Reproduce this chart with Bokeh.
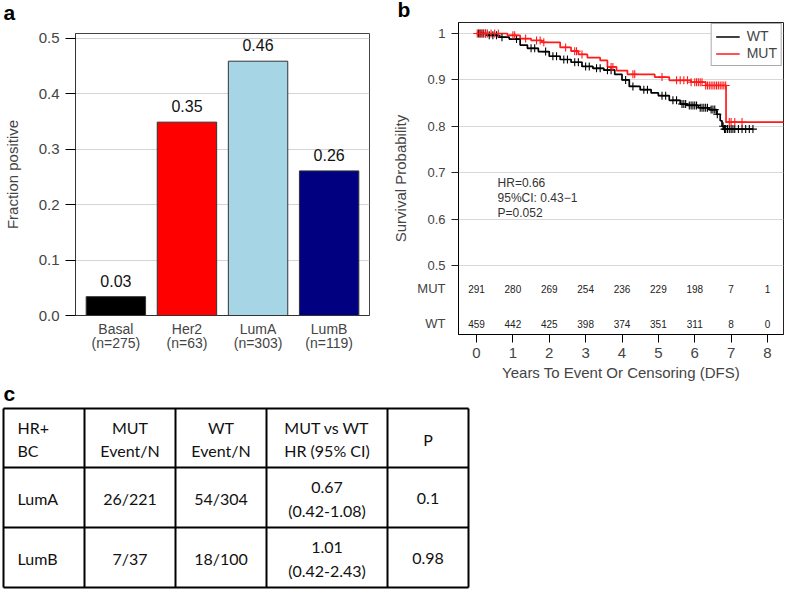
import numpy as np
from bokeh.plotting import figure
from bokeh.models import Range1d, FixedTicker, Legend, LegendItem
from bokeh.layouts import column, row
from bokeh.embed import file_html
from bokeh.resources import INLINE
from bokeh.core.properties import value

# ---------------- panel a data ----------------
subtypes = ["Basal", "Her2", "LumA", "LumB"]
subtype_n = [275, 63, 303, 119]
fraction_positive = [0.034, 0.349, 0.459, 0.261]
bar_colors = ["#000000", "#ff0000", "#a6d5e6", "#000080"]
a_yticks = [0.0, 0.1, 0.2, 0.3, 0.4, 0.5]

# ---------------- panel b data ----------------
wt_time = [0, 0.3, 0.6, 0.9, 1.2, 1.4, 1.7, 2.0, 2.3, 2.6, 2.9, 3.2, 3.5, 3.8, 4.0, 4.2,
           4.5, 4.8, 5.0, 5.3, 5.6, 5.8, 6.1, 6.4, 6.6, 6.7, 6.75, 6.8]
wt_surv = [1.0, 0.996, 0.992, 0.988, 0.975, 0.968, 0.961, 0.951, 0.944, 0.938, 0.929, 0.925,
           0.921, 0.912, 0.900, 0.886, 0.879, 0.872, 0.866, 0.856, 0.848, 0.845, 0.840, 0.836,
           0.826, 0.812, 0.800, 0.794]
wt_end = 7.6
mut_time = [0, 0.85, 1.2, 1.5, 1.8, 2.3, 2.6, 2.8, 3.05, 3.4, 3.6, 3.85, 4.15, 4.9, 5.3,
            5.9, 6.3, 6.86]
mut_surv = [1.0, 0.996, 0.989, 0.985, 0.981, 0.970, 0.962, 0.955, 0.948, 0.942, 0.928, 0.920,
            0.912, 0.906, 0.899, 0.895, 0.888, 0.809]
mut_end = 8.6
wt_censor = [0.05, 0.1, 0.15, 0.2, 0.25, 0.35, 0.45, 0.55, 0.7, 1.1, 1.5, 1.6, 1.9, 2.1, 2.2,
             2.4, 2.5, 2.7, 2.8, 3.0, 3.1, 3.3, 3.4, 3.6, 3.7, 4.1, 4.3, 4.6, 4.7, 5.1, 5.2,
             5.4, 5.5, 5.65, 5.7, 5.75, 5.85, 5.9, 5.95, 6.0, 6.05, 6.15, 6.2, 6.25, 6.3, 6.35,
             6.45, 6.5, 6.55, 6.62, 6.78, 6.82, 6.85, 6.9, 6.95, 7.0, 7.05, 7.1, 7.2, 7.3, 7.4,
             7.5, 7.6]
mut_censor = [0.02, 0.08, 0.12, 0.18, 0.25, 0.3, 0.4, 0.5, 0.6, 1.0, 1.05, 1.35, 1.65, 1.75,
              1.85, 2.45, 2.7, 2.75, 2.9, 3.7, 3.75, 4.3, 4.35, 5.1, 5.5, 5.6, 5.7, 5.8, 5.9,
              6.0, 6.05, 6.1, 6.15, 6.2, 6.3, 6.35, 6.4, 6.45, 6.5, 6.55, 6.6, 6.65, 6.7, 6.75,
              6.8, 6.85, 6.95, 7.0, 7.1, 7.3]
risk_years = [0, 1, 2, 3, 4, 5, 6, 7, 8]
risk_mut = [291, 280, 269, 254, 236, 229, 198, 7, 1]
risk_wt = [459, 442, 425, 398, 374, 351, 311, 8, 0]
risk_groups = ["MUT", "WT"]
b_yticks = [0.5, 0.6, 0.7, 0.8, 0.9, 1.0]
hr_value, hr_ci_low, hr_ci_high, hr_p = 0.66, 0.43, 1, 0.052

# ---------------- panel c data ----------------
table_header = ["HR+\nBC", "MUT\nEvent/N", "WT\nEvent/N", "MUT vs WT\nHR (95% CI)", "P"]
table_subtype = ["LumA", "LumB"]
table_mut = ["26/221", "7/37"]
table_wt = ["54/304", "18/100"]
table_hr = ["0.67", "1.01"]
table_ci = ["0.42-1.08", "0.42-2.43"]
table_p = ["0.1", "0.98"]
panel_letters = ["a", "b", "c"]

FONT = "Liberation Sans"
TFONT = "Lato"

def base_fig(**kw):
    p = figure(output_backend="svg", toolbar_location=None, title=None, **kw)
    p.frame_align = False
    return p

def letter_strip(width, height, letter, x, y):
    s = base_fig(width=width, height=height, x_range=Range1d(0, width),
                 y_range=Range1d(height, 0), min_border=0,
                 x_axis_location=None, y_axis_location=None)
    s.grid.visible = False
    s.outline_line_color = None
    s.text(x=[x], y=[y], text=[letter], text_font=value(FONT), text_font_style="bold",
           text_font_size="21px", text_baseline="bottom")
    return s

W, ROW_H = 787, 388
A_W = 388
B_W = W - A_W

# =============== panel a ===============
SA_H = 26
sa = letter_strip(A_W, SA_H, panel_letters[0], 3, 23)
xa = list(range(1, len(subtypes) + 1))
pa = base_fig(width=A_W, height=ROW_H - SA_H, x_range=Range1d(0.432, 4.568),
              y_range=Range1d(0, 0.509),
              min_border_left=67, min_border_right=19, min_border_top=33 - SA_H,
              min_border_bottom=73)
pa.outline_line_color = "#444444"
pa.xgrid.visible = False
pa.ygrid.ticker = FixedTicker(ticks=a_yticks)
pa.ygrid.grid_line_color = "#d4d4d4"
pa.vbar(x=xa, top=fraction_positive, width=0.836, fill_color=bar_colors, line_color="#333333",
        line_width=1)
pa.text(x=xa, y=fraction_positive, text=[f"{v:.2f}" for v in fraction_positive],
        text_align="center", text_baseline="bottom", y_offset=-10,
        text_font=value(FONT), text_font_size="16px", text_color="#111111")
pa.yaxis.ticker = FixedTicker(ticks=a_yticks)
pa.yaxis.major_label_overrides = {0: "0.0"}
pa.yaxis.axis_label = "Fraction positive"
pa.yaxis.axis_label_text_font = FONT
pa.yaxis.axis_label_text_font_style = "normal"
pa.yaxis.axis_label_text_font_size = "15px"
pa.yaxis.axis_label_standoff = 15
pa.yaxis.major_label_text_font = FONT
pa.yaxis.major_label_text_font_size = "15px"
pa.yaxis.major_tick_out = 10
pa.yaxis.major_tick_in = 0
pa.yaxis.minor_tick_line_color = None
pa.yaxis.major_label_standoff = 6
pa.yaxis.axis_line_color = "#333333"
pa.xaxis.ticker = FixedTicker(ticks=xa)
pa.xaxis.major_label_overrides = {x: f"{s}\n(n={n})" for x, s, n in zip(xa, subtypes, subtype_n)}
pa.xaxis.major_label_text_font = FONT
pa.xaxis.major_label_text_font_size = "14px"
pa.xaxis.major_label_text_line_height = 0.9
pa.xaxis.major_tick_line_color = None
pa.xaxis.minor_tick_line_color = None
pa.xaxis.major_tick_out = 0
pa.xaxis.major_label_standoff = 5
pa.xaxis.axis_line_color = "#333333"

# =============== panel b ===============
SB_H = 21
sb = letter_strip(B_W, SB_H, panel_letters[1], 9, 20.5)
pb = base_fig(width=B_W, height=ROW_H - SB_H, x_range=Range1d(-0.495, 8.44),
              y_range=Range1d(0.3513, 1.0237),
              min_border_left=70, min_border_right=4, min_border_top=1, min_border_bottom=54)
pb.outline_line_color = "#222222"
pb.xgrid.visible = False
pb.ygrid.ticker = FixedTicker(ticks=b_yticks)
pb.ygrid.grid_line_color = "#d8d8d8"

def step_level(times, surv, pts):
    t = np.asarray(times)
    idx = np.searchsorted(t, np.asarray(pts), side="right") - 1
    return list(np.asarray(surv)[idx])

wt_line = pb.step(x=wt_time + [wt_end], y=wt_surv + [wt_surv[-1]], mode="after",
                  line_color="black", line_width=1.7)
mut_line = pb.step(x=mut_time + [mut_end], y=mut_surv + [mut_surv[-1]], mode="after",
                   line_color="#ff1a1a", line_width=1.7)
pb.scatter(x=wt_censor, y=step_level(wt_time, wt_surv, wt_censor), marker="cross", size=8,
           line_color="black", line_width=1.1)
pb.scatter(x=mut_censor, y=step_level(mut_time, mut_surv, mut_censor), marker="cross", size=8,
           line_color="#ff1a1a", line_width=1.1)

MUT_ROW, WT_ROW = 0.4504, 0.375
for yy, counts in ((MUT_ROW, risk_mut), (WT_ROW, risk_wt)):
    pb.text(x=risk_years, y=[yy] * len(risk_years), text=[str(v) for v in counts],
            text_align="center", text_baseline="middle", text_font=value(FONT),
            text_font_size="10px", text_color="#222222")

hr_text = f"HR={hr_value}\n95%CI: {hr_ci_low}\u2212{hr_ci_high}\nP={hr_p}"
pb.text(x=[0.58], y=[0.692], text=[hr_text], text_align="left", text_baseline="top",
        text_font=value(FONT), text_font_size="12px", text_line_height=1.06,
        text_color="#333333")

# y axis: major ticks carry the labels (incl. at-risk row names), minor ticks draw marks
pb.yaxis.ticker = FixedTicker(ticks=[WT_ROW, MUT_ROW] + b_yticks, minor_ticks=b_yticks)
pb.yaxis.major_label_overrides = {1.0: "1", MUT_ROW: risk_groups[0], WT_ROW: risk_groups[1]}
pb.yaxis.axis_label = "Survival Probability"
pb.yaxis.axis_label_text_font = FONT
pb.yaxis.axis_label_text_font_style = "normal"
pb.yaxis.axis_label_text_font_size = "15px"
pb.yaxis.axis_label_standoff = 5
pb.yaxis.major_label_text_font = FONT
pb.yaxis.major_label_text_font_size = "13px"
pb.yaxis.major_tick_out = 7
pb.yaxis.major_tick_in = 0
pb.yaxis.major_tick_line_color = None
pb.yaxis.minor_tick_out = 7
pb.yaxis.minor_tick_in = 0
pb.yaxis.minor_tick_line_color = "#222222"
pb.yaxis.major_label_standoff = 6
pb.xaxis.ticker = FixedTicker(ticks=risk_years)
pb.xaxis.axis_label = "Years To Event Or Censoring (DFS)"
pb.xaxis.axis_label_text_font = FONT
pb.xaxis.axis_label_text_font_style = "normal"
pb.xaxis.axis_label_text_font_size = "15px"
pb.xaxis.axis_label_standoff = 3
pb.xaxis.major_label_text_font = FONT
pb.xaxis.major_label_text_font_size = "15px"
pb.xaxis.major_tick_out = 8
pb.xaxis.major_tick_in = 0
pb.xaxis.minor_tick_line_color = None
pb.xaxis.major_label_standoff = 5

legend = Legend(items=[LegendItem(label="WT", renderers=[wt_line]),
                       LegendItem(label="MUT", renderers=[mut_line])],
                location="top_right", margin=1, padding=4, spacing=1,
                label_text_font=FONT, label_text_font_size="14px",
                label_height=15, glyph_height=15, glyph_width=24, label_standoff=7,
                border_line_color="#555555", border_line_width=1)
pb.add_layout(legend)

# =============== panel c ===============
W_C, H_C = 480, 590 - ROW_H
pc = base_fig(width=W_C, height=H_C, x_range=Range1d(0, W_C), y_range=Range1d(H_C, 0),
              min_border=0, x_axis_location=None, y_axis_location=None)
pc.grid.visible = False
pc.outline_line_color = None
col_edges = [3, 84, 175, 266, 387, 468]
row_edges = [20, 79, 139, 199]
pc.segment(x0=col_edges, y0=[row_edges[0]] * len(col_edges), x1=col_edges,
           y1=[row_edges[-1]] * len(col_edges), line_color="black", line_width=2)
pc.segment(x0=[col_edges[0]] * len(row_edges), y0=row_edges, x1=[col_edges[-1]] * len(row_edges),
           y1=row_edges, line_color="black", line_width=2)
pc.text(x=[3], y=[16], text=panel_letters[2:], text_font=value(FONT), text_font_style="bold",
        text_font_size="21px", text_baseline="bottom")

col_centers = [(a + b) / 2 for a, b in zip(col_edges[:-1], col_edges[1:])]
row_centers = [(a + b) / 2 + 1 for a, b in zip(row_edges[:-1], row_edges[1:])]
rows = [table_header] + [[s, m, w, f"{h}\n({c})", p] for s, m, w, h, c, p in
                         zip(table_subtype, table_mut, table_wt, table_hr, table_ci, table_p)]
tx, ty, tt, ta = [], [], [], []
for r, cells in enumerate(rows):
    for c, txt in enumerate(cells):
        tx.append(col_edges[0] + 14 if c == 0 else col_centers[c])
        ty.append(row_centers[r])
        tt.append(txt)
        ta.append("left" if c == 0 else "center")
pc.text(x=tx, y=ty, text=tt, text_align=ta, text_baseline="middle",
        text_font=value(TFONT), text_font_size="16px", text_line_height=1.25,
        text_color="#111111")

layout = column(row(column(sa, pa), column(sb, pb)), pc)
open("out.html", "w").write(file_html(layout, INLINE))
